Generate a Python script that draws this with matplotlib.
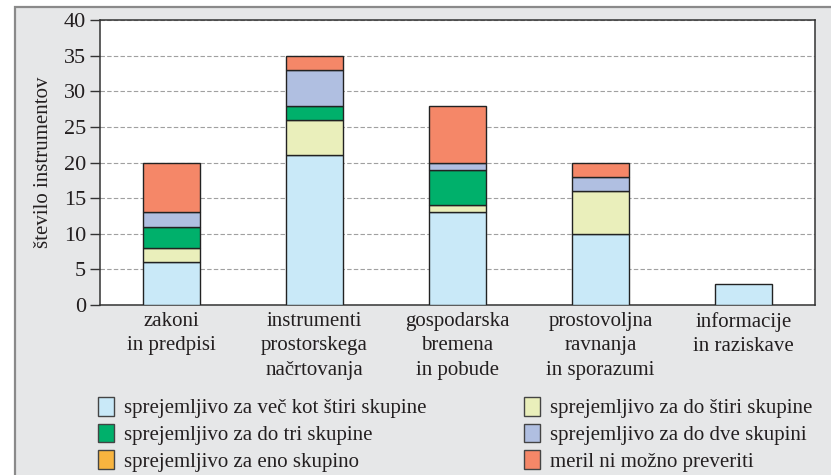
import numpy as np
import matplotlib.pyplot as plt
from matplotlib.patches import Rectangle, Patch

plt.rcParams['font.family'] = ['Liberation Serif', 'DejaVu Serif']

# Kategorije in vrednosti
kategorije = ['zakoni\nin predpisi', 'instrumenti\nprostorskega\nnačrtovanja',
              'gospodarska\nbremena\nin pobude', 'prostovoljna\nravnanja\nin sporazumi',
              'informacije\nin raziskave']
vec_kot_stiri = [6, 21, 13, 10, 3]
do_stiri = [2, 5, 1, 6, 0]
do_tri = [3, 2, 5, 0, 0]
eno = [0, 0, 0, 0, 0]
do_dve = [2, 5, 1, 2, 0]
ni_mozno = [7, 2, 8, 2, 0]

serije = [
    ('sprejemljivo za več kot štiri skupine', vec_kot_stiri, '#c9e9f8'),
    ('sprejemljivo za do štiri skupine', do_stiri, '#eaefbb'),
    ('sprejemljivo za do tri skupine', do_tri, '#00b06b'),
    ('sprejemljivo za eno skupino', eno, '#f8b43f'),
    ('sprejemljivo za do dve skupini', do_dve, '#b0bfe1'),
    ('meril ni možno preveriti', ni_mozno, '#f58768'),
]

W, H = 831, 475
fig = plt.figure(figsize=(W / 100, H / 100), dpi=100)
fig.patch.set_facecolor('white')

# sivo ozadje z robom
fig.patches.append(Rectangle((15 / W, -0.1), 1.2, (H - 7) / H + 0.1,
                             transform=fig.transFigure, facecolor='#e6e7e8',
                             edgecolor='#8a8a8a', lw=1.6, zorder=-5))

ax = fig.add_axes([100 / W, 1 - 305 / H, 715 / W, 285 / H])
ax.set_zorder(2)
ax.set_facecolor('white')

x = np.arange(len(kategorije))
spodaj = np.zeros(len(kategorije))
for ime, vals, barva in serije:
    vals = np.array(vals, dtype=float)
    maska = vals > 0
    ax.bar(x[maska], vals[maska], 0.4, bottom=spodaj[maska], color=barva,
           edgecolor='#222222', linewidth=1.0, zorder=3)
    spodaj += vals

ax.set_xlim(-0.5, 4.5)
ax.set_ylim(0, 40)
ax.set_yticks(range(0, 41, 5))
ax.yaxis.grid(True, linestyle=(0, (4, 2)), color='#a0a0a0', linewidth=0.8, zorder=0)
ax.set_xticks(x)
ax.set_xticklabels(kategorije, fontsize=15, color='#231f20', linespacing=1.38)
ax.tick_params(axis='x', length=0, pad=5)
ax.tick_params(axis='y', length=7, width=1, color='#333333', labelsize=16,
               labelcolor='#231f20', pad=3)
for s in ax.spines.values():
    s.set_color('#333333')
    s.set_linewidth(1.1)
ax.set_ylabel('število instrumentov', fontsize=15, color='#231f20', labelpad=8)

def handle(barva):
    return Patch(facecolor=barva, edgecolor='#444444', linewidth=1.0)

levo = [serije[0], serije[2], serije[3]]
desno = [serije[1], serije[4], serije[5]]
for skupina, xpos in [(levo, 98), (desno, 524)]:
    leg = fig.legend([handle(b) for _, _, b in skupina], [n for n, _, _ in skupina],
                     loc='upper left', bbox_to_anchor=(xpos / W, 1 - 397 / H),
                     frameon=False, fontsize=15, handlelength=0.75, handleheight=1.0,
                     handletextpad=0.5, labelspacing=0.25, borderaxespad=0,
                     borderpad=0)
    for t in leg.get_texts():
        t.set_color('#231f20')

fig.savefig('out.png', dpi=100)
